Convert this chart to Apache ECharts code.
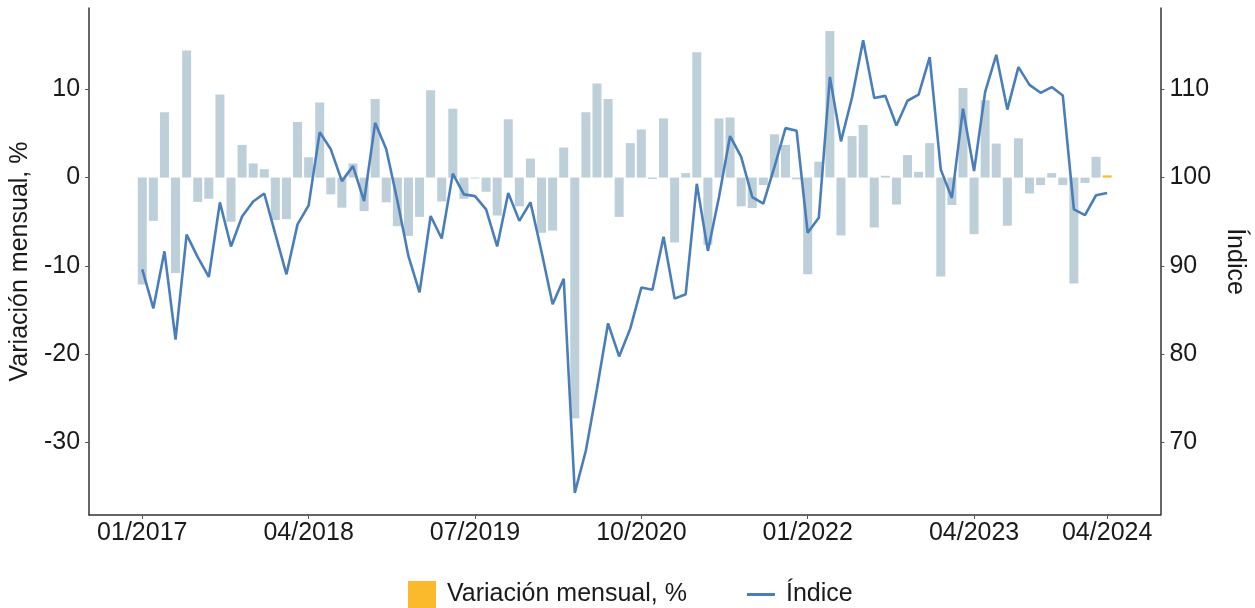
<!DOCTYPE html>
<html>
<head>
<meta charset="utf-8">
<script src="https://cdn.jsdelivr.net/npm/echarts@6/dist/echarts.min.js"></script>
<style>html,body{margin:0;padding:0;background:#fff;}#c{width:1255px;height:608px;}</style>
</head>
<body>
<div id="c"></div>
<script>
const months = [
  '01/2017','02/2017','03/2017','04/2017','05/2017','06/2017','07/2017','08/2017','09/2017','10/2017','11/2017','12/2017',
  '01/2018','02/2018','03/2018','04/2018','05/2018','06/2018','07/2018','08/2018','09/2018','10/2018','11/2018','12/2018',
  '01/2019','02/2019','03/2019','04/2019','05/2019','06/2019','07/2019','08/2019','09/2019','10/2019','11/2019','12/2019',
  '01/2020','02/2020','03/2020','04/2020','05/2020','06/2020','07/2020','08/2020','09/2020','10/2020','11/2020','12/2020',
  '01/2021','02/2021','03/2021','04/2021','05/2021','06/2021','07/2021','08/2021','09/2021','10/2021','11/2021','12/2021',
  '01/2022','02/2022','03/2022','04/2022','05/2022','06/2022','07/2022','08/2022','09/2022','10/2022','11/2022','12/2022',
  '01/2023','02/2023','03/2023','04/2023','05/2023','06/2023','07/2023','08/2023','09/2023','10/2023','11/2023','12/2023',
  '01/2024','02/2024','03/2024','04/2024'
];
const variacion = [
  -12.1,-4.9,7.4,-10.8,14.4,-2.75,-2.4,9.4,-5.0,3.7,1.6,0.95,
  -4.8,-4.7,6.3,2.3,8.5,-1.9,-3.4,1.6,-3.8,8.9,-2.8,-5.5,
  -6.6,-4.45,9.9,-2.7,7.8,-2.4,-0.1,-1.6,-4.3,6.6,-3.25,2.15,
  -6.25,-6.0,3.4,-27.25,7.4,10.65,8.9,-4.45,3.9,5.45,-0.15,6.7,
  -7.35,0.5,14.2,-7.6,6.7,6.8,-3.25,-3.45,-0.85,4.9,3.7,-0.2,
  -10.95,1.8,16.6,-6.55,4.7,5.95,-5.65,0.2,-3.05,2.55,0.65,3.9,
  -11.2,-3.1,10.15,-6.4,8.75,3.85,-5.45,4.45,-1.8,-0.85,0.5,-0.85,
  -12.0,-0.6,2.35,0.25
];
const indice = [
  89.6,85.2,91.65,81.65,93.55,91.0,88.75,97.2,92.2,95.6,97.3,98.2,
  93.6,89.05,94.7,96.85,105.15,103.2,99.6,101.3,97.35,106.2,103.2,97.4,
  91.1,87.0,95.65,93.1,100.45,98.1,97.9,96.4,92.2,98.25,95.1,97.2,
  91.6,85.65,88.55,64.3,69.1,76.1,83.5,79.75,82.9,87.55,87.3,93.3,
  86.3,86.8,99.3,91.7,97.8,104.7,102.35,97.8,97.05,101.2,105.6,105.3,
  93.75,95.45,111.4,104.1,109.1,115.55,109.0,109.25,105.9,108.7,109.4,113.65,
  100.9,97.7,107.8,100.75,109.7,113.9,107.7,112.5,110.5,109.6,110.25,109.3,
  96.4,95.75,98.0,98.25
];
const xTickLabels = ['01/2017','04/2018','07/2019','10/2020','01/2022','04/2023','04/2024'];
const leftTicks = [-30,-20,-10,0,10];
const rightTicks = [70,80,90,100,110];

const barGrey = '#BDCFD9';
const orange = '#FBBA2C';
const blue = '#4A7EBB';
const font = "'Liberation Sans', Arial, Helvetica, sans-serif";
const txt = '#1a1a1a';

const xTickPos = xTickLabels.map(l => months.indexOf(l));
const lastIdx = months.length - 1;

const barData = variacion.map((v, i) => ({
  value: [i, v],
  itemStyle: { color: i === lastIdx ? orange : barGrey }
}));
const lineData = indice.map((v, i) => [i, v]);

const chart = echarts.init(document.getElementById('c'), null, { renderer: 'canvas' });
chart.setOption({
  animation: false,
  backgroundColor: '#fff',
  textStyle: { fontFamily: font },
  grid: { left: 87, right: 90, top: 8, bottom: 93, containLabel: false },
  legend: {
    left: 408, top: 581, padding: 0,
    itemWidth: 28, itemHeight: 27, itemGap: 60,
    textStyle: { fontSize: 25, color: txt, fontFamily: font, padding: [0, 0, 0, 6] },
    data: [
      { name: 'Variación mensual, %', icon: 'rect' },
      { name: 'Índice', icon: 'path://M0,0H24V2.6H0Z' }
    ]
  },
  xAxis: {
    type: 'value',
    min: -4.8, max: 91.8,
    axisLine: { show: true, onZero: false, lineStyle: { color: '#333', width: 1.5 } },
    axisTick: { show: true, customValues: xTickPos, length: 4, lineStyle: { color: '#555' } },
    axisLabel: { customValues: xTickPos, formatter: v => months[v], fontSize: 25, color: txt, margin: 6, fontFamily: font },
    splitLine: { show: false }
  },
  yAxis: [
    {
      type: 'value', position: 'left',
      min: -38.2, max: 19.2,
      name: 'Variación mensual, %', nameLocation: 'middle', nameGap: 46, nameRotate: 90,
      nameTextStyle: { fontSize: 25, color: txt, fontFamily: font },
      axisLine: { show: true, onZero: false, lineStyle: { color: '#333', width: 1.5 } },
      axisTick: { show: true, customValues: leftTicks, length: 4, lineStyle: { color: '#555' } },
      axisLabel: { customValues: leftTicks, fontSize: 25, color: txt, margin: 9, fontFamily: font },
      splitLine: { show: false }
    },
    {
      type: 'value', position: 'right',
      min: 61.8, max: 119.2,
      name: 'Índice', nameLocation: 'middle', nameGap: 41, nameRotate: -90,
      nameTextStyle: { fontSize: 25, color: txt, fontFamily: font },
      axisLine: { show: true, onZero: false, lineStyle: { color: '#333', width: 1.5 } },
      axisTick: { show: true, customValues: rightTicks, length: 4, lineStyle: { color: '#555' } },
      axisLabel: { customValues: rightTicks, fontSize: 25, color: txt, margin: 9, fontFamily: font },
      splitLine: { show: false }
    }
  ],
  series: [
    {
      name: 'Variación mensual, %',
      type: 'bar',
      yAxisIndex: 0,
      barWidth: 9,
      itemStyle: { color: orange },
      data: barData
    },
    {
      name: 'Índice',
      type: 'line',
      yAxisIndex: 1,
      symbol: 'none',
      lineStyle: { color: blue, width: 2.6 },
      itemStyle: { color: blue },
      data: lineData
    }
  ]
});
</script>
</body>
</html>
